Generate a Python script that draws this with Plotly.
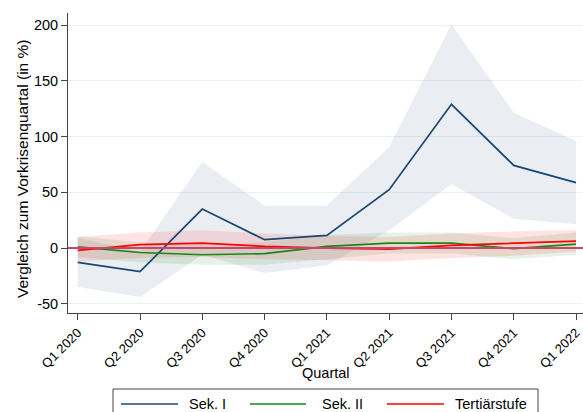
import plotly.graph_objects as go

quarters = ["Q1 2020", "Q2 2020", "Q3 2020", "Q4 2020", "Q1 2021",
            "Q2 2021", "Q3 2021", "Q4 2021", "Q1 2022"]

# Change relative to the pre-crisis quarter (in %), with confidence bands
sek1 = [-12.8, -21.2, 35.0, 7.5, 11.4, 52.4, 129.0, 74.2, 58.7]
sek1_lo = [-35.0, -44.0, -6.0, -22.5, -15.5, 15.9, 57.2, 26.4, 21.3]
sek1_hi = [9.0, -3.0, 77.2, 38.3, 38.3, 90.7, 200.8, 121.5, 96.0]

sek2 = [1.0, -4.0, -6.0, -5.0, 1.5, 4.5, 4.5, -0.5, 3.6]
sek2_lo = [-8.0, -13.0, -15.0, -15.0, -10.0, -5.0, -5.0, -10.0, -6.0]
sek2_hi = [10.5, 5.0, 3.0, 5.0, 12.0, 14.0, 14.0, 9.0, 14.0]

tert = [-2.0, 3.0, 4.5, 1.5, 0.0, -1.0, 2.4, 4.2, 6.3]
tert_lo = [-12.0, -9.0, -8.0, -10.0, -11.0, -12.0, -9.0, -7.0, -3.0]
tert_hi = [10.0, 14.0, 16.0, 13.0, 11.0, 10.0, 13.0, 15.0, 16.0]

y_ticks = [-50, 0, 50, 100, 150, 200]
y_ticklabels = ["-50", "0", "50", "100", "150", "200"]

series = [
    ("Sek. I", sek1, sek1_lo, sek1_hi, "#1a476f", "rgba(26,71,111,0.09)"),
    ("Sek. II", sek2, sek2_lo, sek2_hi, "#148a14", "rgba(20,138,20,0.11)"),
    ("Tertiärstufe", tert, tert_lo, tert_hi, "#ff0000", "rgba(255,0,0,0.11)"),
]

W, H = 583, 412
ML, MR, MT, MB = 68, 0, 13, 99
PW, PH = W - ML - MR, H - MT - MB


def px_x(p):
    """pixel column -> paper x"""
    return (p - ML) / PW


def px_y(p):
    """pixel row -> paper y"""
    return (H - MB - p) / PH


x = list(range(len(quarters)))
fig = go.Figure()

# confidence bands first
for name, mid, lo, hi, col, fillcol in series:
    fig.add_trace(go.Scatter(x=x, y=lo, mode="lines", line=dict(width=0),
                             showlegend=False, hoverinfo="skip"))
    fig.add_trace(go.Scatter(x=x, y=hi, mode="lines", line=dict(width=0),
                             fill="tonexty", fillcolor=fillcol,
                             showlegend=False, hoverinfo="skip"))

shapes = [
    # reference line at zero
    dict(type="line", xref="paper", x0=0, x1=1, yref="y", y0=0, y1=0,
         line=dict(color="#c8466e", width=2), layer="above"),
    # legend frame
    dict(type="rect", xref="paper", yref="paper",
         x0=px_x(113), x1=px_x(538), y0=px_y(389), y1=px_y(430),
         line=dict(color="#444444", width=1), fillcolor="white", layer="above"),
]
annotations = [
    dict(text="Quartal", xref="paper", yref="paper", x=0.5, y=px_y(373),
         xanchor="center", yanchor="middle", showarrow=False, font=dict(size=14.5)),
    dict(text="Vergleich zum Vorkrisenquartal (in %)", xref="paper", yref="paper",
         x=px_x(22), y=px_y(169), xanchor="center", yanchor="middle",
         textangle=-90, showarrow=False, font=dict(size=15.5)),
]

# point estimates + legend keys
legend_slots = [(121, 178, 187), (250, 306, 320), (387, 444, 453)]
for (name, mid, lo, hi, col, fillcol), (k0, k1, tx) in zip(series, legend_slots):
    fig.add_trace(go.Scatter(x=x, y=mid, mode="lines", name=name,
                             line=dict(color=col, width=1.7), showlegend=False))
    shapes.append(dict(type="line", xref="paper", yref="paper",
                       x0=px_x(k0), x1=px_x(k1), y0=px_y(404), y1=px_y(404),
                       line=dict(color=col, width=1.7), layer="above"))
    annotations.append(dict(text=name, xref="paper", yref="paper",
                            x=px_x(tx), y=px_y(404), xanchor="left", yanchor="middle",
                            showarrow=False, font=dict(size=14.5)))

font = "Liberation Sans, Arial, sans-serif"
fig.update_layout(
    width=W, height=H,
    margin=dict(l=ML, r=MR, t=MT, b=MB),
    paper_bgcolor="white", plot_bgcolor="white",
    font=dict(family=font, size=14, color="#000000"),
    showlegend=False,
    xaxis=dict(range=[-0.156, 8.112], tickvals=x, ticktext=quarters,
               tickangle=-45, ticks="outside", ticklen=6, tickcolor="#444444",
               showline=True, linecolor="#444444", linewidth=1,
               showgrid=False, zeroline=False, automargin=False,
               tickfont=dict(size=13)),
    yaxis=dict(range=[-58.3, 211], tickvals=y_ticks, ticktext=y_ticklabels,
               ticks="outside", ticklen=6,
               tickcolor="#444444", showline=True, linecolor="#444444", linewidth=1,
               showgrid=True, gridcolor="#eaf1f3", gridwidth=1, zeroline=False,
               automargin=False, tickfont=dict(size=14.5)),
    shapes=shapes,
    annotations=annotations,
)

fig.write_html("out.html")
